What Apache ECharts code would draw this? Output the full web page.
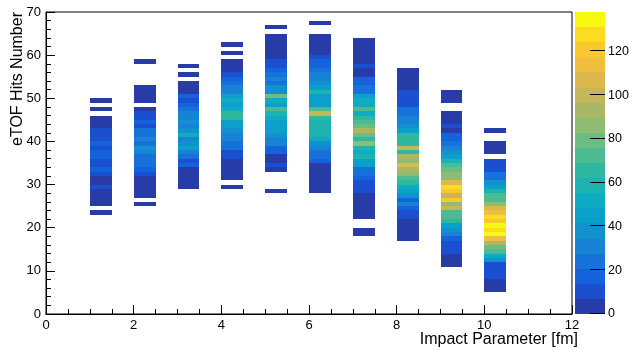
<!DOCTYPE html>
<html>
<head>
<meta charset="utf-8">
<script src="https://cdn.jsdelivr.net/npm/echarts@6/dist/echarts.min.js"></script>
<style>
  html, body { margin: 0; padding: 0; background: #fff; }
  #chart { width: 629px; height: 350px; }
</style>
</head>
<body>
<div id="chart"></div>
<script>
// Impact-parameter bins (lower edges, fm) and their width
const impactBinLow = [1, 2, 3, 4, 5, 6, 7, 8, 9, 10];
const impactBinWidth = 0.5;

// First eTOF-hits bin filled in each impact-parameter bin
const firstHitBin = [23, 25, 29, 29, 28, 28, 18, 17, 11, 5];

// Entries per unit eTOF-hits bin, counted upward from firstHitBin
const entriesB1  = [1, 0, 3, 4, 3, 5, 9, 5, 4, 10, 16, 11, 10, 15, 16, 11, 17, 10, 12, 10, 6, 4, 3, 0, 2, 0, 1];
const entriesB2  = [3, 0, 4, 5, 3, 4, 6, 11, 18, 24, 22, 25, 30, 37, 25, 31, 23, 26, 12, 16, 11, 9, 4, 0, 2, 3, 4, 2, 0, 0, 0, 0, 0, 1];
const entriesB3  = [4, 5, 3, 6, 5, 17, 12, 25, 32, 44, 39, 31, 50, 38, 30, 40, 31, 28, 25, 17, 12, 18, 6, 4, 5, 0, 2, 0, 1];
const entriesB4  = [2, 0, 5, 4, 6, 3, 5, 10, 12, 24, 26, 31, 33, 40, 44, 46, 64, 66, 52, 45, 50, 44, 31, 33, 24, 17, 10, 5, 4, 3, 0, 1, 0, 1];
const entriesB5  = [3, 0, 0, 0, 0, 5, 9, 6, 5, 15, 18, 30, 32, 38, 44, 46, 45, 50, 58, 72, 45, 52, 78, 38, 40, 25, 32, 26, 18, 11, 9, 6, 5, 4, 3, 4, 2, 0, 1];
const entriesB6  = [4, 5, 6, 5, 4, 6, 5, 17, 24, 26, 32, 38, 52, 58, 60, 57, 59, 65, 100, 72, 45, 46, 44, 58, 45, 38, 31, 33, 25, 17, 18, 10, 5, 4, 3, 4, 2, 0, 0, 1];
const entriesB7  = [3, 4, 0, 0, 3, 5, 4, 6, 5, 6, 9, 11, 12, 17, 23, 26, 44, 46, 58, 52, 60, 84, 66, 80, 92, 79, 73, 66, 55, 72, 50, 52, 45, 25, 27, 17, 19, 5, 6, 10, 5, 4, 6, 3, 4, 2];
const entriesB8  = [4, 5, 6, 5, 6, 10, 12, 16, 30, 18, 38, 44, 50, 65, 72, 85, 92, 108, 86, 94, 66, 100, 64, 66, 64, 45, 39, 31, 32, 24, 26, 12, 10, 11, 9, 5, 4, 6, 3, 2];
const entriesB9  = [3, 5, 6, 9, 11, 12, 18, 30, 38, 45, 66, 72, 74, 100, 86, 120, 98, 122, 127, 108, 88, 86, 80, 75, 60, 44, 38, 31, 24, 17, 16, 5, 10, 5, 4, 3, 0, 0, 4, 5, 3];
const entriesB10 = [4, 5, 6, 9, 11, 10, 12, 38, 52, 72, 80, 94, 112, 134, 126, 137, 124, 127, 113, 106, 86, 73, 71, 56, 45, 39, 25, 23, 12, 10, 8, 0, 4, 5, 3, 0, 0, 2];

// Axis ranges and tick labels
const xTicks = [0, 2, 4, 6, 8, 10, 12];
const yTicks = [0, 10, 20, 30, 40, 50, 60, 70];
const zMax = 138;
const zTicks = [0, 20, 40, 60, 80, 100, 120];

// Colour contours (20 levels)
const palette = [
  '#283ca8', '#1a4fcf', '#1463dc', '#1672d8', '#1882d4',
  '#1191cd', '#0aa0c9', '#0eabc3', '#1db3b1', '#2fb8a0',
  '#4cbb92', '#6dbd83', '#8dbc72', '#a9b866', '#c5b55b',
  '#ddb84c', '#efbe3c', '#fbc82c', '#fcdb22', '#f8f910'
];

const entries = [entriesB1, entriesB2, entriesB3, entriesB4, entriesB5,
                 entriesB6, entriesB7, entriesB8, entriesB9, entriesB10];

// [x low edge, y low edge, content] for every non-empty cell
const cells = [];
entries.forEach((col, c) => {
  col.forEach((v, j) => {
    if (v > 0) cells.push([impactBinLow[c], firstHitBin[c] + j, v]);
  });
});

// Palette bands: [x, band low, band centre, band high]
const step = zMax / palette.length;
const bands = palette.map((_, i) => [0, i * step, (i + 0.5) * step, (i + 1) * step]);

const pieces = palette.map((color, i) => (
  i === palette.length - 1
    ? { gte: i * step, lte: zMax, color }
    : { gte: i * step, lt: (i + 1) * step, color }
));

const FONT = '"Liberation Sans", Arial, Helvetica, sans-serif';

function cellItem(params, api) {
  const a = api.coord([api.value(0), api.value(1) + 1]);
  const b = api.coord([api.value(0) + impactBinWidth, api.value(1)]);
  const x0 = Math.round(a[0]), y0 = Math.round(a[1]);
  const x1 = Math.round(b[0]), y1 = Math.round(b[1]);
  return {
    type: 'rect',
    shape: { x: x0, y: y0, width: x1 - x0, height: y1 - y0 },
    style: { fill: api.visual('color') }
  };
}

function bandItem(params, api) {
  const a = api.coord([0, api.value(3)]);
  const b = api.coord([1, api.value(1)]);
  const x0 = Math.round(a[0]), y0 = Math.round(a[1]);
  const x1 = Math.round(b[0]), y1 = Math.round(b[1]);
  return {
    type: 'rect',
    shape: { x: x0, y: y0, width: x1 - x0, height: y1 - y0 },
    style: { fill: api.visual('color') }
  };
}

// Palette-axis tick marks, drawn inward from the bar's right edge
function paletteTick(params, api) {
  const a = api.coord([0.5, api.value(1)]);
  const b = api.coord([1, api.value(1)]);
  const y = Math.round(a[1]) - 0.5;
  return {
    type: 'line',
    shape: { x1: a[0], y1: y, x2: b[0], y2: y },
    style: { stroke: '#000', lineWidth: 1 }
  };
}

const labelStyle = { color: '#000', fontSize: 13, fontFamily: FONT };

const chart = echarts.init(document.getElementById('chart'), null, { renderer: 'canvas' });
chart.setOption({
  animation: false,
  backgroundColor: '#fff',
  grid: [
    { left: 46, top: 12, width: 526, height: 302, show: true,
      borderColor: '#000', borderWidth: 1, backgroundColor: 'transparent',
      outerBoundsMode: 'none' },
    { left: 575, top: 12, width: 30, height: 302, show: false,
      outerBoundsMode: 'none' }
  ],
  xAxis: [
    {
      type: 'value', gridIndex: 0,
      min: xTicks[0], max: xTicks[xTicks.length - 1], interval: 2,
      axisLine: { show: true, lineStyle: { color: '#000', width: 1 } },
      axisTick: { show: true, inside: true, length: 9, lineStyle: { color: '#000' } },
      minorTick: { show: true, splitNumber: 4, length: 5, lineStyle: { color: '#000' } },
      axisLabel: Object.assign({ margin: 5, customValues: xTicks }, labelStyle),
      splitLine: { show: false }
    },
    { type: 'value', gridIndex: 1, min: 0, max: 1, show: false }
  ],
  yAxis: [
    {
      type: 'value', gridIndex: 0,
      min: yTicks[0], max: yTicks[yTicks.length - 1], interval: 10,
      axisLine: { show: true, lineStyle: { color: '#000', width: 1 } },
      axisTick: { show: true, inside: true, length: 9, lineStyle: { color: '#000' } },
      minorTick: { show: true, splitNumber: 5, length: 5, lineStyle: { color: '#000' } },
      axisLabel: Object.assign({ margin: 5, customValues: yTicks }, labelStyle),
      splitLine: { show: false }
    },
    {
      type: 'value', gridIndex: 1, position: 'right',
      min: 0, max: zMax,
      axisLine: { show: false },
      axisTick: { show: false },
      axisLabel: Object.assign({ margin: 3, customValues: zTicks }, labelStyle, { fontSize: 12.5 }),
      splitLine: { show: false }
    }
  ],
  visualMap: {
    type: 'piecewise', show: false, dimension: 2,
    seriesIndex: [0, 1], pieces: pieces
  },
  graphic: [
    {
      type: 'text', x: 18, y: 12, rotation: Math.PI / 2,
      style: { text: 'eTOF Hits Number', font: '16px ' + FONT, fill: '#000',
               align: 'right', verticalAlign: 'middle',
               textAlign: 'right', textVerticalAlign: 'middle' }
    },
    {
      type: 'text', x: 578, y: 340,
      style: { text: 'Impact Parameter [fm]', font: '16px ' + FONT, fill: '#000',
               align: 'right', verticalAlign: 'middle',
               textAlign: 'right', textVerticalAlign: 'middle' }
    }
  ],
  series: [
    {
      type: 'custom', xAxisIndex: 0, yAxisIndex: 0,
      renderItem: cellItem, data: cells,
      encode: { x: 0, y: 1 }
    },
    {
      type: 'custom', xAxisIndex: 1, yAxisIndex: 1, z: 1,
      renderItem: bandItem, data: bands,
      encode: { x: 0, y: [1, 3] }
    },
    {
      type: 'custom', xAxisIndex: 1, yAxisIndex: 1, z: 5,
      renderItem: paletteTick, data: zTicks.map(v => [1, v]),
      encode: { x: 0, y: 1 }
    }
  ]
});
</script>
</body>
</html>
